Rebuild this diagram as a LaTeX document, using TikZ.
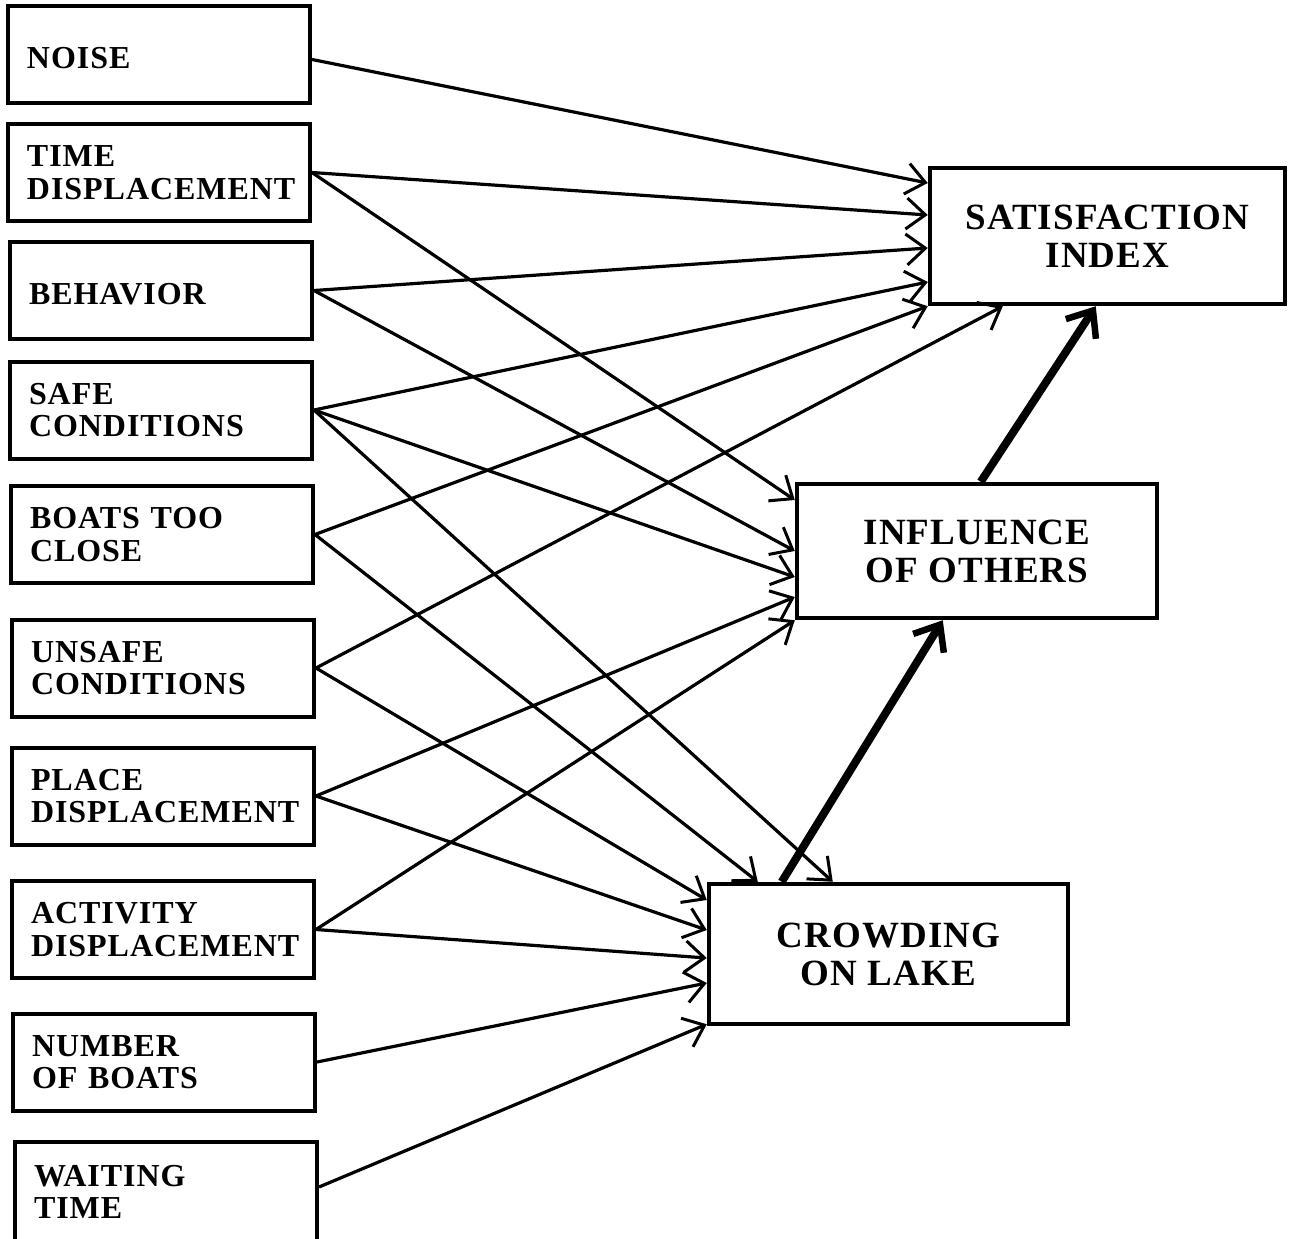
\documentclass[tikz,border=0pt]{standalone}
\usepackage{fontspec}
\setmainfont{Liberation Serif}[LetterSpace=3]
\usetikzlibrary{arrows.meta}
\begin{document}
\begin{tikzpicture}[x=1pt,y=-1pt,
  srcbox/.style={draw, line width=4pt, rectangle, inner xsep=19pt, inner ysep=0pt,
    text width=264pt, align=left, minimum height=97pt,
    font=\bfseries\fontsize{32}{32.5}\selectfont},
  lowtext/.style={text height=28pt, text depth=0pt},
  tgtbox/.style={draw, line width=4.5pt, rectangle, inner sep=0pt, align=center,
    font=\bfseries\fontsize{37}{38}\selectfont},
  arr/.style={line width=3.2pt, -{Straight Barb[length=19pt,width=31pt,line width=3pt]}},
  thickarr/.style={line width=8pt, -{Straight Barb[length=22pt,width=36pt,line width=6.5pt]}}
]
\useasboundingbox (0,0) rectangle (1290,1239);

% source boxes
\node[srcbox, lowtext] (noise)  at (159,54.5)  {NOISE};
\node[srcbox] (time)   at (159,172.5) {TIME\\DISPLACEMENT};
\node[srcbox, lowtext] (behav)  at (161,290.5) {BEHAVIOR};
\node[srcbox] (safe)   at (161,410)   {SAFE\\CONDITIONS};
\node[srcbox] (boats)  at (162,534.5) {BOATS TOO\\CLOSE};
\node[srcbox] (unsafe) at (163,668)   {UNSAFE\\CONDITIONS};
\node[srcbox] (place)  at (163,796)   {PLACE\\DISPLACEMENT};
\node[srcbox] (activ)  at (163,929.5) {ACTIVITY\\DISPLACEMENT};
\node[srcbox] (number) at (164,1062)  {NUMBER\\OF BOATS};
\node[srcbox, minimum height=100pt] (waiting) at (166,1192) {WAITING\\TIME};

% target boxes
\node[tgtbox, minimum width=355pt, minimum height=136pt] (sat)   at (1107.5,236) {SATISFACTION\\INDEX};
\node[tgtbox, minimum width=360pt, minimum height=134pt] (infl)  at (977,551)    {INFLUENCE\\OF OTHERS};
\node[tgtbox, minimum width=359pt, minimum height=140pt] (crowd) at (888.5,954)  {CROWDING\\ON LAKE};

% to satisfaction index
\draw[arr] ([yshift=-5pt]noise.east) -- ([yshift=53pt]sat.west);
\draw[arr] (time.east)   -- ([yshift=21pt]sat.west);
\draw[arr] (behav.east)  -- ([yshift=-12pt]sat.west);
\draw[arr] (safe.east)   -- ([yshift=-46pt]sat.west);
\draw[arr] (boats.east)  -- (sat.south west);
\draw[arr] (unsafe.east) -- ([xshift=75pt]sat.south west);

% to influence of others
\draw[arr] (time.east)   -- ([yshift=51pt]infl.west);
\draw[arr] (behav.east)  -- (infl.west);
\draw[arr] (safe.east)   -- ([yshift=-26pt]infl.west);
\draw[arr] (place.east)  -- ([yshift=-46pt]infl.west);
\draw[arr] (activ.east)  -- (infl.south west);

% to crowding on lake
\draw[arr] (safe.east)    -- ([xshift=126pt]crowd.north west);
\draw[arr] (boats.east)   -- ([xshift=51pt]crowd.north west);
\draw[arr] (unsafe.east)  -- ([yshift=54pt]crowd.west);
\draw[arr] (place.east)   -- ([yshift=24pt]crowd.west);
\draw[arr] (activ.east)   -- ([yshift=-4pt]crowd.west);
\draw[arr] (number.east)  -- ([yshift=-29pt]crowd.west);
\draw[arr] ([yshift=5pt]waiting.east) -- ([yshift=2pt]crowd.south west);

% thick paths
\draw[thickarr] ([xshift=75pt]crowd.north west) -- ([xshift=148pt]infl.south west);
\draw[thickarr] ([xshift=186pt]infl.north west) -- ([xshift=168pt]sat.south west);
\end{tikzpicture}
\end{document}
